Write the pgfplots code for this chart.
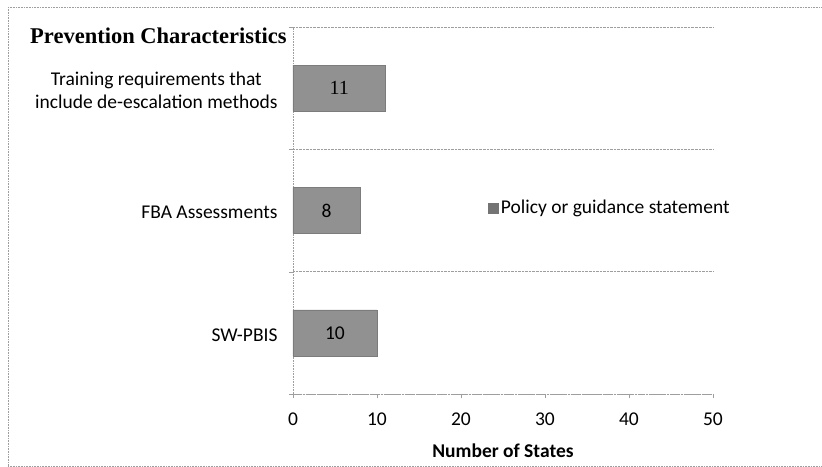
\documentclass[border=0pt]{standalone}
\usepackage{pgfplots}
\pgfplotsset{compat=1.18}
\usepackage{fontspec}
\setmainfont{Carlito}
\newfontfamily\titlefont{Liberation Serif}
\definecolor{barcol}{gray}{0.57}
\definecolor{gridcol}{gray}{0.62}
\begin{document}
\begin{tikzpicture}
\path[use as bounding box] (-293bp,-73bp) rectangle (529bp,394bp);
\draw[gridcol, densely dotted, line width=0.6bp] (-285bp,387bp) -- (529bp,387bp);
\draw[gridcol, densely dotted, line width=0.6bp] (-285bp,387bp) -- (-285bp,-72bp);
\draw[gridcol, densely dotted, line width=0.6bp] (-285bp,-72bp) -- (529bp,-72bp);
\begin{axis}[
  at={(0,0)}, anchor=south west,
  scale only axis, width=420bp, height=367bp,
  xmin=0, xmax=50, ymin=-0.5, ymax=2.5,
  xtick={0,10,20,30,40,50},
  ytick={0,1,2},
  yticklabels={SW-PBIS, FBA Assessments, {Training requirements that\\include de-escalation methods}},
  minor ytick={-0.5,0.5,1.5,2.5},
  yminorgrids=true,
  minor grid style={gridcol, densely dotted, line width=0.6bp},
  axis x line*=bottom, axis y line*=left,
  axis line style={gridcol, densely dotted, line width=0.6bp, -},
  tick align=outside,
  major tick length=4bp, minor tick length=4bp,
  y tick style={draw=none},
  minor y tick style={gridcol, draw=gridcol},
  x tick style={gridcol},
  /pgf/number format/assume math mode=true,
  tick label style={font=\fontsize{19.5bp}{23.5bp}\selectfont, black},
  yticklabel style={align=center, xshift=-8bp, yshift=-2bp},
  xticklabel style={yshift=-11bp},
  xlabel={\bfseries Number of States},
  xlabel style={font=\fontsize{19.5bp}{23.5bp}\selectfont, yshift=-12bp},
  legend style={at={(0.465,0.507)}, anchor=west, draw=none, fill=none,
    font=\fontsize{19.5bp}{23.5bp}\selectfont, inner sep=0pt},
  legend image code/.code={\fill[barcol!80!black] (-3bp,-5bp) rectangle (7bp,5bp);},
  clip=false,
]
\addplot[xbar, bar width=46bp, fill=barcol, draw=barcol!85!black, line width=0.4bp]
  coordinates {(10,0) (8,1) (11,2)};
\addlegendentry{Policy or guidance statement}
\addplot[only marks, mark=none, forget plot,
  nodes near coords, point meta=explicit symbolic,
  nodes near coords style={anchor=center, font=\fontsize{19.5bp}{23.5bp}\selectfont}]
  coordinates {(5,0) [10] (4,1) [8]};
\addplot[only marks, mark=none, forget plot,
  nodes near coords, point meta=explicit symbolic,
  nodes near coords style={anchor=center, font=\titlefont\fontsize{20bp}{24bp}\selectfont}]
  coordinates {(5.5,2) [11]};
\end{axis}
\node[anchor=base west, inner sep=0pt, font=\titlefont\bfseries\fontsize{22.5bp}{26bp}\selectfont] at (-263bp,350bp) {Prevention Characteristics};
\end{tikzpicture}
\end{document}
